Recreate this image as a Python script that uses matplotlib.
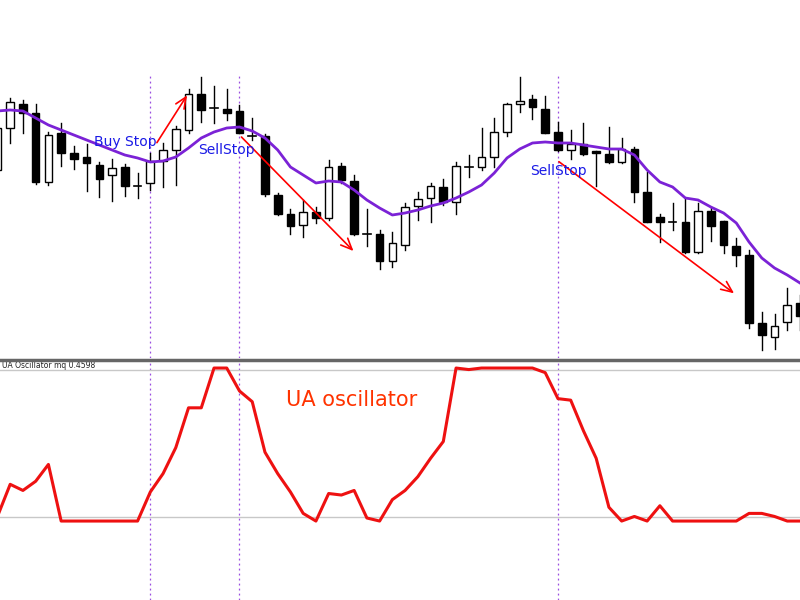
import matplotlib
matplotlib.use("Agg")
import matplotlib.pyplot as plt
from matplotlib.patches import Rectangle

opens  = [230,272,296,287,218,267,247,243,235,225,233,214,217,239,250,270,306,292,291,289,264,264,205,186,175,188,182,234,219,166,166,139,155,194,202,213,198,233,233,243,268,296,301,291,268,250,256,249,246,238,251,208,183,178,178,148,189,179,154,145,77,63,78,97]
highs  = [280,302,300,296,268,277,254,256,238,241,236,227,247,257,274,311,323,314,311,295,282,266,207,191,200,193,240,237,225,191,170,168,197,208,217,221,238,245,272,282,297,323,305,304,278,270,277,249,273,262,253,228,186,197,202,197,193,179,162,150,88,86,112,105]
lows   = [225,257,267,216,215,234,231,209,203,199,204,202,210,213,215,267,278,277,280,267,260,204,185,166,163,177,180,217,165,154,131,133,150,180,178,195,186,223,230,233,264,288,281,267,249,241,245,214,237,237,198,178,158,170,147,147,159,147,134,72,50,51,70,70]
closes = [272,298,287,218,265,247,241,237,221,232,214,214,239,250,271,306,290,292,287,267,264,206,186,174,188,182,233,220,166,166,139,157,193,201,214,198,234,233,243,268,296,299,293,267,250,256,246,247,238,251,208,178,178,178,148,189,174,155,145,77,65,74,95,84]
ma     = [289,290,289,282,275,270,265,260,255,250,245,242,238,239,243,252,262,268,272,273,269,262,250,233,225,217,219,218,210,200,192,185,187,190,194,197,202,208,215,227,242,251,257,258,257,257,255,253,251,251,245,230,218,213,202,200,193,187,177,158,142,132,125,117]
osc    = [0.03,0.24,0.20,0.26,0.37,0,0,0,0,0,0,0,0.19,0.31,0.48,0.74,0.74,1,1,0.85,0.78,0.45,0.31,0.19,0.05,0,0.18,0.17,0.20,0.02,0,0.14,0.20,0.29,0.41,0.52,1,0.99,1,1,1,1,1,0.97,0.80,0.79,0.59,0.41,0.09,0,0.03,0,0.10,0,0,0,0,0,0,0.05,0.05,0.03,0,0]
signal_bars = [12, 19, 44]

fig = plt.figure(figsize=(8, 6), dpi=100)
ax = fig.add_axes([0, 1 - 358/600, 1, 358/600])
ax2 = fig.add_axes([0, 0, 1, 239/600])
n = len(opens)
xl = (0.2, 63.0)
for a in (ax, ax2):
    a.set_xlim(*xl)
    a.set_xticks([]); a.set_yticks([])
    for s in a.spines.values():
        s.set_visible(False)
ax.set_ylim(42, 400)
ax2.set_ylim(-0.516, 1.046)

w = 0.6
for i in range(n):
    o, h, l, c = opens[i], highs[i], lows[i], closes[i]
    ax.plot([i, i], [l, h], color='black', lw=1, zorder=2)
    bot, top = min(o, c), max(o, c)
    fc = 'white' if c > o else 'black'
    if top - bot < 1.5:
        ax.plot([i - w/2, i + w/2], [o, o], color='black', lw=1.2, zorder=3)
    else:
        ax.add_patch(Rectangle((i - w/2, bot), w, top - bot, facecolor=fc, edgecolor='black', lw=1, zorder=3))
ax.plot(range(n), ma, color='#7b22d6', lw=2, zorder=4)

for b in signal_bars:
    ax.plot([b, b], [42, 325], color='#9a4fe0', lw=0.9, ls=(0, (1.5, 2.5)), zorder=1)
    ax2.axvline(b, color='#9a4fe0', lw=0.9, ls=(0, (1.5, 2.5)), zorder=1)

arr = dict(arrowstyle='->,head_length=0.8,head_width=0.35', color='red', lw=1.2)
ax.annotate('', xy=(15.0, 307), xytext=(12.4, 255), arrowprops=arr, zorder=5)
ax.annotate('', xy=(28.1, 147), xytext=(19.0, 265), arrowprops=arr, zorder=5)
ax.annotate('', xy=(58.0, 105), xytext=(43.9, 240), arrowprops=arr, zorder=5)
ax.text(10.0, 258, 'Buy Stop', color='#1a1ae6', fontsize=10, ha='center', va='center', zorder=6)
ax.text(18.0, 250, 'SellStop', color='#1a1ae6', fontsize=10, ha='center', va='center', zorder=6)
ax.text(44.0, 229, 'SellStop', color='#1a1ae6', fontsize=10, ha='center', va='center', zorder=6)

ax2.axhline(0.985, color='#c8c8c8', lw=1)
ax2.axhline(0.025, color='#c8c8c8', lw=1)
ax2.plot(range(n), osc, color='#ee1111', lw=2.2, zorder=3)
ax2.text(0.35, 1.016, 'UA Oscillator mq 0.4598', fontsize=5.5, color='#222222', va='center')
ax2.text(27.8, 0.79, 'UA oscillator', fontsize=15, color='#ff3300', ha='center', va='center')
fig.add_artist(plt.Line2D([0, 1], [1 - 359.5/600]*2, color='#666666', lw=2.5))
fig.savefig('out.png', dpi=100)
